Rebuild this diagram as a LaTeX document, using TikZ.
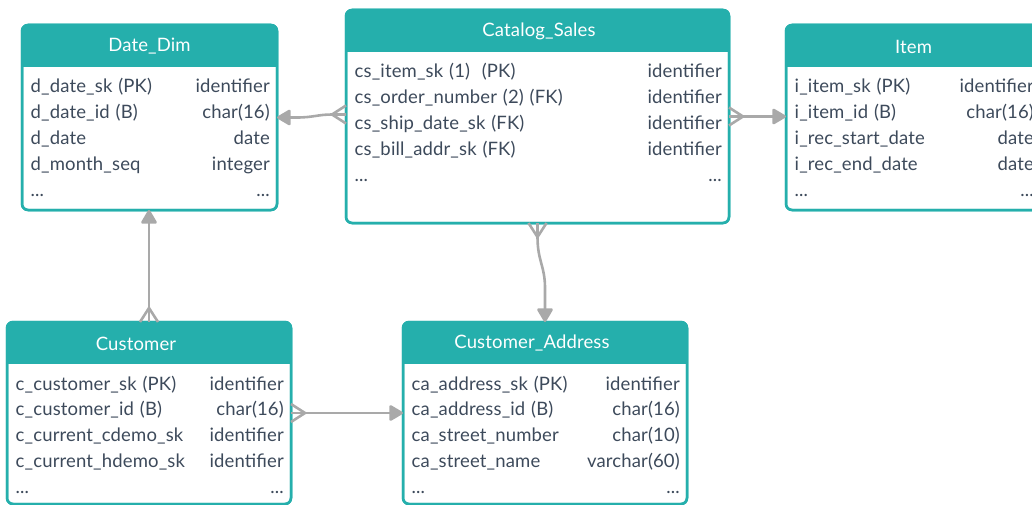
\documentclass[tikz,border=0pt]{standalone}
\usepackage{fontspec}
\setmainfont{Lato}[WordSpace=1.2,LetterSpace=0.8]
\usetikzlibrary{arrows.meta,calc}

\definecolor{tealc}{HTML}{25AFAC}
\definecolor{ink}{HTML}{3D4A5B}
\definecolor{linkc}{HTML}{A9A9A9}

\tikzset{
  tbl/.style={draw=tealc, line width=2.5pt, rounded corners=6pt, fill=white,
    anchor=north west, inner sep=0pt, outer sep=0pt},
  title/.style={text=white, inner sep=0pt, font=\fontsize{18.5}{22}\selectfont},
  fld/.style={text=ink, anchor=base west, inner sep=0pt, font=\fontsize{18.5}{22}\selectfont},
  typ/.style={text=ink, anchor=base east, inner sep=0pt, font=\fontsize{18.5}{22}\selectfont},
  link/.style={draw=linkc, line width=2.6pt, line join=round},
  tip/.style={-{Triangle[length=15pt,width=17pt,round]}},
}

% table head: teal band under the rounded frame
\newcommand\header[3][0pt]{%
  \begin{scope}
    \clip[rounded corners=6pt] (#2.north west) rectangle (#2.south east);
    \fill[tealc] (#2.north west) rectangle ([yshift=-42pt]#2.north east);
  \end{scope}
  \draw[tealc, line width=2.5pt, rounded corners=6pt] (#2.north west) rectangle (#2.south east);
  \node[title] (#2-name) at ([xshift=#1,yshift=-21.5pt]#2.north) {#3};
}

% one row per column: name on the left, type on the right
\newcommand\more{...}
\newcommand\fields[2]{%
  \foreach \f/\t [count=\i] in {#2} {
    \node[fld] (#1-f\i) at ([xshift=8.5pt,yshift={-68pt-25.9pt*(\i-1)}]#1.north west) {\f};
    \node[typ] (#1-t\i) at ([xshift=-7pt,yshift={-68pt-25.9pt*(\i-1)}]#1.north east) {\t};
  }
}

% crow's foot at the many end of a link
\newcommand\crowfoot[3]{%
  \draw[link] ($(#1)+(#3)$) -- ($(#1)+(#2)$) -- ($(#1)-(#3)$);
}

\begin{document}
\begin{tikzpicture}[x=1pt,y=-1pt]
  \useasboundingbox (0,0) rectangle (1032,505);
  \clip (0,0) rectangle (1032,505);

  % tables
  \node[tbl, minimum width=255, minimum height=185] (datedim) at (22,25) {};
  \node[tbl, minimum width=383, minimum height=213] (catsales) at (346,10) {};
  \node[tbl, minimum width=255, minimum height=185] (item) at (786,25) {};
  \node[tbl, minimum width=284, minimum height=182] (customer) at (7,322) {};
  \node[tbl, minimum width=284, minimum height=182] (custaddr) at (403,322) {};

  \header{datedim}{Date\_Dim}
  \header[1.5pt]{catsales}{Catalog\_Sales}
  \header{item}{Item}
  \header[-13pt]{customer}{Customer}
  \header[-13pt]{custaddr}{Customer\_Address}

  \fields{datedim}{d\_date\_sk (PK)/identifier, d\_date\_id (B)/char(16),
    d\_date/date, d\_month\_seq/integer, \more/\more}
  \fields{catsales}{cs\_item\_sk (1)\ \ (PK)/identifier, cs\_order\_number (2) (FK)/identifier,
    cs\_ship\_date\_sk (FK)/identifier, cs\_bill\_addr\_sk (FK)/identifier, \more/\more}
  \fields{item}{i\_item\_sk (PK)/identifier, i\_item\_id (B)/char(16),
    i\_rec\_start\_date/date, i\_rec\_end\_date/date, \more/\more}
  \fields{customer}{c\_customer\_sk (PK)/identifier, c\_customer\_id (B)/char(16),
    c\_current\_cdemo\_sk/identifier, c\_current\_hdemo\_sk/identifier, \more/\more}
  \fields{custaddr}{ca\_address\_sk (PK)/identifier, ca\_address\_id (B)/char(16),
    ca\_street\_number/char(10), ca\_street\_name/varchar(60), \more/\more}

  % links
  \coordinate (csw) at ([yshift=2pt]catsales.west);
  \draw[link, tip] (csw) -- ++(-14,0) .. controls +(-14,0) and +(16,0)
    .. ($(datedim.east)+(20,0)$) -- (datedim.east);
  \crowfoot{csw}{-14,0}{0,9}

  \draw[link, tip] (catsales.east) -- (catsales.east -| item.west);
  \crowfoot{catsales.east}{14,0}{0,9}

  \draw[link, tip] (catsales.south) -- ++(0,14) .. controls +(0,24) and +(0,-22)
    .. ($(custaddr.north)+(0,-34)$) -- (custaddr.north);
  \crowfoot{catsales.south}{0,14}{9,0}

  \draw[link, tip] (customer.north) -- (customer.north |- datedim.south);
  \crowfoot{customer.north}{0,-14}{9,0}

  \draw[link, tip] (customer.east) -- (customer.east -| custaddr.west);
  \crowfoot{customer.east}{14,0}{0,9}
\end{tikzpicture}
\end{document}
